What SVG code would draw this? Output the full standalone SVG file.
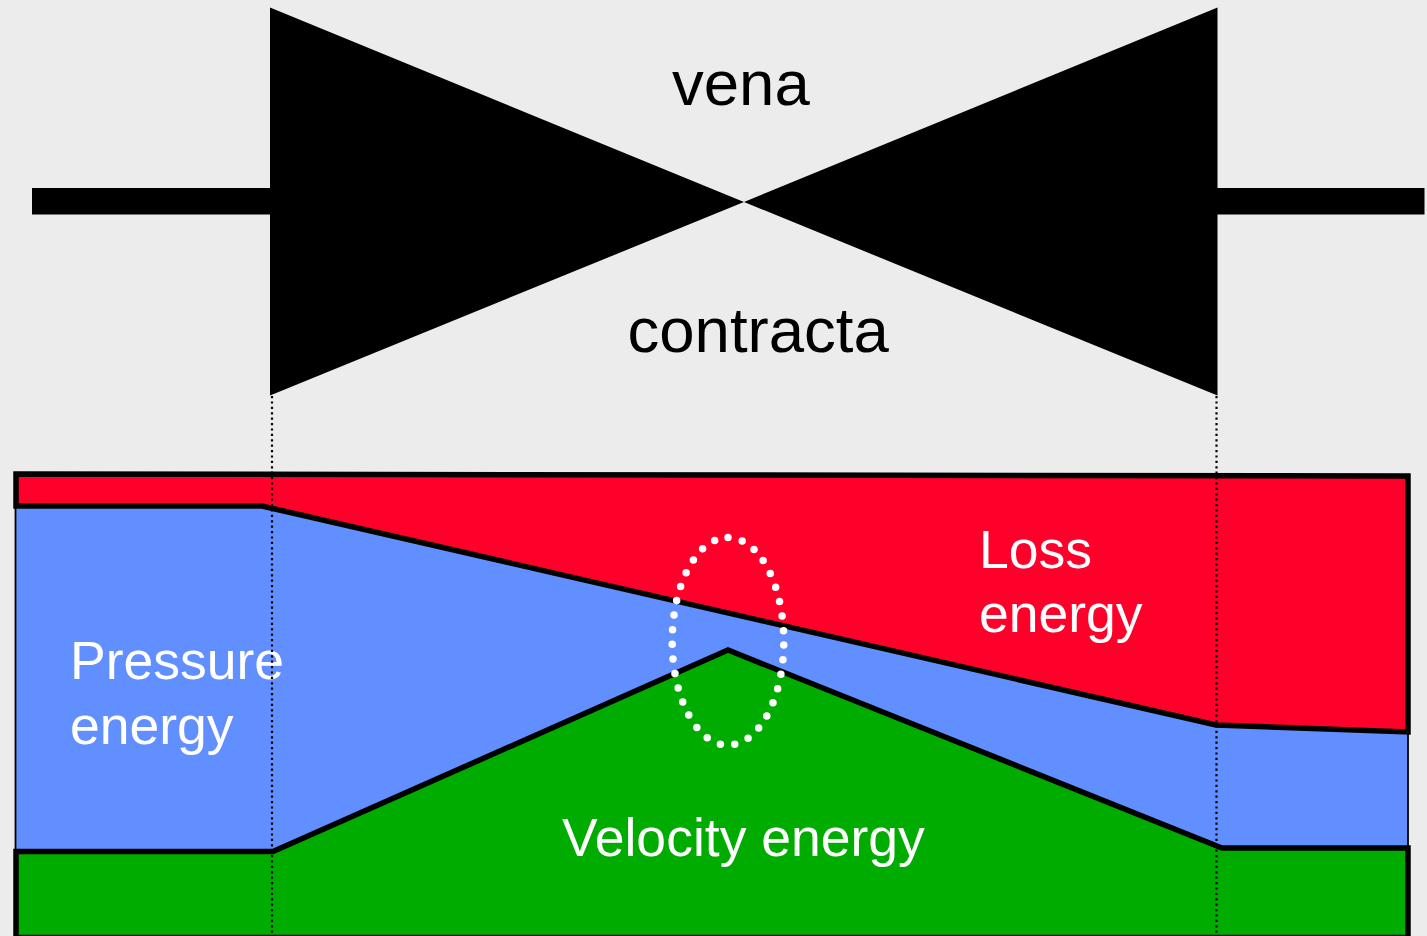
<svg xmlns="http://www.w3.org/2000/svg" width="1427" height="936" viewBox="0 0 1427 936">
<style>
.t{font-family:"Liberation Sans",Arial,sans-serif}
.k{font-size:63.5px;fill:#000}
.w{font-size:53.5px;fill:#fff}
.e{stroke:#000;stroke-width:5.500;fill:none;stroke-linejoin:miter}
.d{stroke:#000;stroke-width:2.200;fill:none;stroke-dasharray:2.200 3.200}
</style>
<rect width="1427" height="936" fill="#ececec"/>
<g id="nozzle">
<path d="M270 7.500L744 202L1217.500 7.500V395.500L744 202L270 395.500Z" fill="#000"/>
<rect x="32" y="188" width="238" height="26.500" fill="#000"/>
<rect x="1217" y="188" width="207.500" height="26.500" fill="#000"/>
<text class="t k" x="672" y="105">vena</text>
<text class="t k" x="627.500" y="352">contracta</text>
</g>
<g id="pressure-energy">
<path d="M15.500 506H262L1216 725L1408 732V851H1222L728 650L273 851H15.500Z" fill="#628fff" stroke="#000" stroke-width="1.800"/>
<text class="t w" x="70" y="679">Pressure</text>
<text class="t w" x="70" y="744">energy</text>
</g>
<g id="loss-energy">
<path d="M16 474L1408 476V732L1216 725L262 506H16Z" fill="#ff002b"/>
<path class="e" d="M16 474L1408 476V732L1216 725L262 506H16Z"/>
<text class="t w" x="979" y="568">Loss</text>
<text class="t w" x="979" y="632">energy</text>
</g>
<g id="velocity-energy">
<path d="M16 851H273L728 650L1222 848H1408V935.500H16Z" fill="#00ac00"/>
<path class="e" d="M16 936V851.500H273L728 650L1222 848H1408V936"/>
<path d="M16 935.500H1408" stroke="#000" stroke-width="1.500"/>
<text class="t w" x="562" y="856">Velocity energy</text>
</g>
<g id="connectors">
<path class="d" d="M272 396V936"/>
<path class="d" d="M1216.500 396V936"/>
</g>
<g id="highlight">
<path d="M728 537.500A55.800 103.800 0 0 1 728 745.100A55.800 103.800 0 0 1 728 537.500Z" fill="none" stroke="#fff" stroke-width="7.500" stroke-linecap="round" stroke-dasharray="0 14.660"/>
</g>
</svg>
